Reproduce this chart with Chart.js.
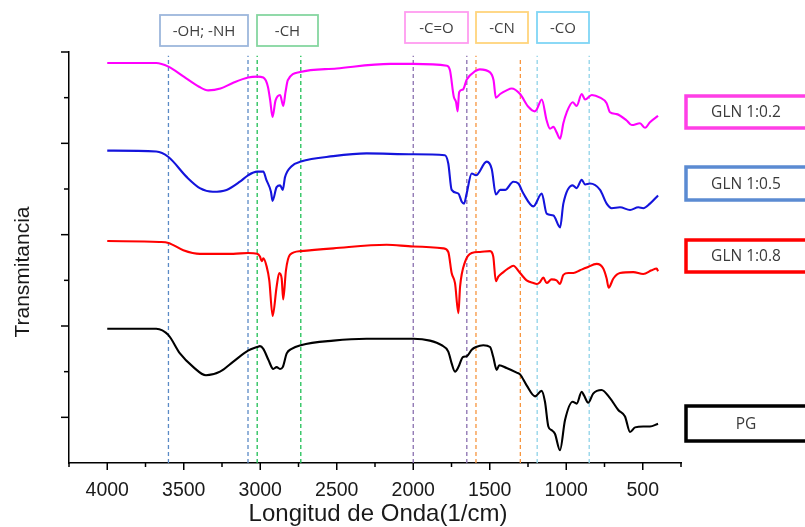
<!DOCTYPE html>
<html>
<head>
<meta charset="utf-8">
<script src="https://cdn.jsdelivr.net/npm/chart.js@4/dist/chart.umd.min.js"></script>
<style>
  html, body { margin: 0; padding: 0; background: #fff; }
  #wrap { width: 805px; height: 527px; }
</style>
</head>
<body>
<div id="wrap"><canvas id="c" width="805" height="527"></canvas></div>
<script>
// FTIR spectra, wavenumber (1/cm) and stacked transmittance (arbitrary units)
const g02Wave = [4000,3680,3600,3500,3400,3340,3260,3180,3080,3020,2980,2950,2935,2920,2900,2870,2850,2835,2820,2740,2500,2150,2000,1780,1760,1735,1720,1710,1700,1675,1650,1595,1565,1500,1475,1460,1432,1390,1357,1302,1248,1205,1193,1160,1128,1106,1084,1063,1040,1019,997,958,932,899,877,833,779,736,714,670,605,572,518,485,453,400];
const g02T    = [43.8,43.8,43.4,42.3,41.2,40.8,41.0,41.6,42.2,42.3,42.2,41.2,39.7,37.9,39.7,40.3,39.1,40.6,41.9,42.8,43.2,43.7,43.7,43.5,43.0,40.1,39.5,38.5,40.6,40.9,42.0,42.9,43.1,42.8,41.9,40.0,40.4,40.8,41.0,40.4,39.0,38.5,38.7,39.8,37.5,36.6,36.8,36.2,35.5,37.2,38.4,39.5,39.1,40.4,39.8,40.3,40.0,39.4,38.4,38.2,37.5,37.0,37.2,36.7,37.3,38.0];

const g05Wave = [4000,3680,3600,3480,3395,3310,3220,3133,3080,3020,2980,2960,2930,2920,2893,2870,2853,2838,2795,2735,2522,2305,2000,1793,1771,1749,1705,1683,1668,1651,1618,1590,1520,1487,1460,1432,1400,1346,1313,1280,1215,1160,1128,1084,1040,1019,958,932,899,877,845,779,736,703,649,583,529,497,453,400];
const g05T    = [34.2,34.1,33.5,31.3,30.1,29.7,29.9,30.8,31.5,31.9,31.9,31.0,29.7,28.7,30.2,30.4,29.9,31.3,32.5,33.0,33.6,33.9,33.8,33.7,32.8,29.9,29.5,28.6,28.4,29.5,31.7,31.5,33.0,32.2,29.4,29.9,29.9,30.8,30.6,29.5,28.1,29.5,27.3,27.1,25.8,28.4,30.4,30.1,31.0,30.5,30.6,29.9,28.4,27.9,28.0,27.7,28.0,27.9,28.4,29.3];

const g08Wave = [4000,3660,3600,3503,3394,3176,3080,3020,3002,2990,2980,2958,2941,2919,2893,2876,2860,2850,2832,2806,2735,2522,2174,2000,1803,1771,1749,1727,1705,1694,1662,1618,1564,1498,1477,1460,1444,1411,1379,1346,1302,1259,1215,1193,1172,1150,1128,1096,1063,1041,1019,986,953,910,866,801,758,736,723,692,649,562,497,442,409,400];
const g08T    = [24.3,24.2,24.1,23.3,22.9,22.9,23.0,22.9,22.6,22.1,22.4,21.5,20.0,16.1,19.3,20.8,20.2,17.9,21.1,22.8,23.2,23.5,23.9,23.7,23.5,23.1,20.8,19.7,16.4,19.3,22.0,23.0,23.1,23.2,22.6,19.9,20.4,20.9,21.3,21.6,20.8,20.0,19.7,19.6,19.8,20.3,19.7,20.1,20.0,19.6,20.6,20.8,20.8,21.1,21.4,21.8,21.3,20.2,19.2,20.2,20.8,20.9,20.7,21.1,21.3,21.0];

const pgWave = [4000,3680,3600,3525,3437,3355,3263,3176,3080,3020,3002,2980,2947,2915,2893,2871,2853,2827,2795,2735,2522,2305,2000,1891,1815,1771,1749,1727,1705,1676,1650,1618,1590,1542,1498,1477,1455,1438,1390,1324,1302,1259,1204,1161,1139,1117,1096,1074,1041,1008,958,932,899,884,856,824,769,714,660,616,583,550,497,453,400];
const pgT    = [14.7,14.7,14.0,12.0,10.5,9.6,10.0,11.1,12.3,12.7,12.8,12.5,11.3,10.3,10.5,10.3,10.5,12.0,12.5,12.9,13.4,13.6,13.6,13.4,12.9,12.2,10.9,10.0,10.5,11.6,11.7,12.4,12.7,12.9,12.7,11.6,10.2,10.7,10.4,9.9,9.7,8.5,7.3,7.9,6.7,4.0,3.6,3.2,1.4,4.7,6.7,6.5,7.8,7.4,6.6,7.6,8.0,7.1,5.8,5.1,3.4,3.9,4.0,4.0,4.3];

// Band limits (1/cm) marked with dashed guide lines
const bandWave  = [3600, 3080, 3020, 2735, 2000, 1650, 1590, 1300, 1190, 850];
const bandTop   = [44.6, 44.6, 44.6, 44.6, 44.6, 44.6, 44.6, 44.3, 44.6, 44.6];
const bandColor = ['#5b8ac6','#5b8ac6','#1fbf55','#1fbf55','#8a70b0','#8a70b0','#f7963f','#f7963f','#8fd3e8','#8fd3e8'];

// Functional-group labels along the top
const groupNames = ['-OH; -NH', '-CH', '-C=O', '-CN', '-CO'];

// Series names shown in the side boxes
const seriesNames = ['GLN 1:0.2', 'GLN 1:0.5', 'GLN 1:0.8', 'PG'];
const seriesColors = ['#ff00ff', '#1414dc', '#ff0000', '#000000'];

// Axis
const xMajorTicks = [4000, 3500, 3000, 2500, 2000, 1500, 1000, 500];
const xMin = 250, xMax = 4250, yMin = 0, yMax = 45;

const zip = (w, t) => w.map((v, i) => ({ x: v, y: t[i] }));
const spectra = [
  [g02Wave, g02T], [g05Wave, g05T], [g08Wave, g08T], [pgWave, pgT]
];

const datasets = [];
spectra.forEach(([w, t], i) => {
  datasets.push({
    label: seriesNames[i],
    data: zip(w, t),
    borderColor: seriesColors[i],
    borderWidth: 2.1,
    pointRadius: 0,
    cubicInterpolationMode: 'monotone',
    fill: false,
    order: 1
  });
});
bandWave.forEach((w, i) => {
  datasets.push({
    label: 'band' + w,
    data: [{ x: w, y: 0 }, { x: w, y: bandTop[i] }],
    borderColor: bandColor[i],
    borderWidth: 1.3,
    borderDash: [4, 3],
    pointRadius: 0,
    fill: false,
    order: 2
  });
});

// Label boxes (pixel layout of the annotation frames)
const groupBoxes = [
  { x: 160, y: 15, w: 88, h: 31, c: '#9db7dc' },
  { x: 257, y: 15, w: 61, h: 31, c: '#86d6a0' },
  { x: 405, y: 12, w: 63, h: 31, c: '#ff9cf0' },
  { x: 476, y: 12, w: 52, h: 31, c: '#ffd47c' },
  { x: 537, y: 12, w: 52, h: 31, c: '#7fd5f6' }
];
const seriesBoxes = [
  { y: 96, h: 32, c: '#ff3fe6' },
  { y: 167, h: 33, c: '#5b8bd2' },
  { y: 240, h: 32, c: '#ff0000' },
  { y: 406, h: 35, c: '#000000' }
];

const decor = {
  id: 'decor',
  afterDraw(chart) {
    const { ctx, chartArea } = chart;
    const xs = chart.scales.x, ys = chart.scales.y;
    ctx.save();

    // tick marks
    ctx.strokeStyle = '#000';
    ctx.lineWidth = 1.5;
    xs.ticks.forEach(t => {
      const px = xs.getPixelForValue(t.value);
      const len = (t.value % 500 === 0) ? 7 : 4;
      ctx.beginPath();
      ctx.moveTo(px, chartArea.bottom);
      ctx.lineTo(px, chartArea.bottom + len);
      ctx.stroke();
    });
    ys.ticks.forEach(t => {
      if (t.value === yMin) return;
      const py = ys.getPixelForValue(t.value);
      const len = (t.value % 10 === 5) ? 8 : 5;
      ctx.beginPath();
      ctx.moveTo(chartArea.left, py);
      ctx.lineTo(chartArea.left - len, py);
      ctx.stroke();
    });

    // x tick labels
    ctx.fillStyle = '#1a1a1a';
    ctx.font = '19.5px "Liberation Sans", Arial, sans-serif';
    ctx.textAlign = 'center';
    ctx.textBaseline = 'middle';
    xMajorTicks.forEach(v => {
      ctx.fillText(String(v), xs.getPixelForValue(v), 491);
    });

    // axis titles
    ctx.font = '24px "Liberation Sans", Arial, sans-serif';
    ctx.fillText('Longitud de Onda(1/cm)', (chartArea.left + chartArea.right) / 2 + 3, 514);
    ctx.save();
    ctx.translate(23, 272);
    ctx.rotate(-Math.PI / 2);
    ctx.font = '21px "Liberation Sans", Arial, sans-serif';
    ctx.fillText('Transmitancia', 0, 0);
    ctx.restore();

    // functional-group boxes
    ctx.font = '15px "Open Sans", sans-serif';
    ctx.fillStyle = '#404040';
    groupBoxes.forEach((b, i) => {
      ctx.strokeStyle = b.c;
      ctx.lineWidth = 1.8;
      ctx.strokeRect(b.x, b.y, b.w, b.h);
      ctx.fillText(groupNames[i], b.x + b.w / 2, b.y + b.h / 2 + 1);
    });

    // series boxes
    ctx.font = '15.5px "Open Sans", sans-serif';
    seriesBoxes.forEach((b, i) => {
      ctx.strokeStyle = b.c;
      ctx.lineWidth = 3.5;
      ctx.strokeRect(686, b.y, 124, b.h);
      ctx.fillStyle = '#3a3a3a';
      ctx.fillText(seriesNames[i], 746, b.y + b.h / 2 + 1);
    });

    ctx.restore();
  }
};

new Chart(document.getElementById('c'), {
  type: 'line',
  data: { datasets },
  options: {
    responsive: false,
    animation: false,
    devicePixelRatio: 1,
    layout: { padding: { left: 69, right: 124, top: 52, bottom: 0 } },
    plugins: { legend: { display: false }, tooltip: { enabled: false } },
    scales: {
      x: {
        type: 'linear',
        reverse: true,
        min: xMin,
        max: xMax,
        ticks: { display: false, stepSize: 250 },
        grid: { display: false },
        border: { display: true, color: '#000', width: 1.5 },
        afterFit: s => { s.height = 64; }
      },
      y: {
        type: 'linear',
        min: yMin,
        max: yMax,
        ticks: { display: false, stepSize: 5 },
        grid: { display: false },
        border: { display: true, color: '#000', width: 1.5 },
        afterFit: s => { s.width = 0; }
      }
    }
  },
  plugins: [decor]
});
</script>
</body>
</html>
